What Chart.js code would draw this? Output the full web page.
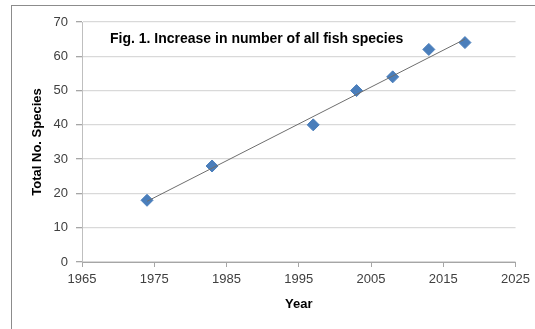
<!DOCTYPE html>
<html>
<head>
<meta charset="utf-8">
<script src="https://cdn.jsdelivr.net/npm/chart.js@4.4.1/dist/chart.umd.min.js"></script>
<style>
  body { margin: 0; background: #fff; }
  #wrap { position: relative; width: 535px; height: 329px; }
  #frame { position: absolute; left: 11px; top: 5px; width: 530px; height: 330px;
           border-left: 1px solid #8c8c8c; border-top: 1px solid #8c8c8c; }
  canvas { position: absolute; left: 0; top: 0; }
</style>
</head>
<body>
<div id="wrap">
  <div id="frame"></div>
  <canvas id="fishChart" width="535" height="329"></canvas>
</div>
<script>
// observed counts
const years = [1974, 1983, 1997, 2003, 2008, 2013, 2018];
const species = [18, 28, 40, 50, 54, 62, 64];

// linear trendline, end points
const trendYears = [1974, 2018];
const trendValues = [17.7, 65.0];

const chartTitle = 'Fig. 1. Increase in number of all fish species';
const xTitle = 'Year';
const yTitle = 'Total No. Species';

const tickFont = { family: 'Liberation Sans', size: 13 };
const boldFont = { family: 'Liberation Sans', size: 13, weight: 'bold' };

// title sits inside the plot area, top-left
const innerTitle = {
  id: 'innerTitle',
  afterDraw(chart) {
    const { ctx, chartArea } = chart;
    ctx.save();
    ctx.font = 'bold 14px "Liberation Sans"';
    ctx.fillStyle = '#000';
    ctx.textAlign = 'left';
    ctx.textBaseline = 'middle';
    ctx.fillText(chartTitle, chartArea.left + 28, chartArea.top + 17);
    ctx.restore();
  }
};

new Chart(document.getElementById('fishChart'), {
  type: 'scatter',
  data: {
    datasets: [
      {
        label: 'Trend',
        data: trendYears.map((x, i) => ({ x: x, y: trendValues[i] })),
        showLine: true,
        borderColor: '#6e6e6e',
        borderWidth: 1,
        pointRadius: 0,
        order: 0,
      },
      {
        label: 'Species',
        data: years.map((x, i) => ({ x: x, y: species[i] })),
        pointStyle: 'rectRot',
        pointRadius: 6,
        backgroundColor: '#4a7ebb',
        borderColor: '#4a7ebb',
        borderWidth: 1,
        order: 1,
      },
    ],
  },
  options: {
    responsive: false,
    animation: false,
    layout: { padding: { left: 25, top: 22, right: 18, bottom: 0 } },
    plugins: {
      legend: { display: false },
      tooltip: { enabled: false },
    },
    scales: {
      x: {
        type: 'linear',
        min: 1965,
        max: 2025,
        afterFit: (scale) => { scale.height = 67; },
        ticks: {
          stepSize: 10,
          padding: 5,
          color: '#404040',
          font: tickFont,
          maxRotation: 0,
          callback: (v) => String(v),
        },
        grid: {
          drawOnChartArea: false,
          drawTicks: true,
          tickLength: 5,
          tickColor: '#a6a6a6',
        },
        border: { color: '#a6a6a6' },
        title: {
          display: true,
          text: xTitle,
          color: '#000',
          font: boldFont,
          padding: { top: 0, bottom: 17 },
        },
      },
      y: {
        min: 0,
        max: 70,
        afterFit: (scale) => { scale.width = 57; },
        ticks: {
          stepSize: 10,
          padding: 8,
          color: '#404040',
          font: tickFont,
        },
        grid: {
          color: '#d9d9d9',
          lineWidth: 1.3,
          tickLength: 6,
          tickColor: '#a6a6a6',
        },
        border: { color: '#bfbfbf' },
        title: {
          display: true,
          text: yTitle,
          color: '#000',
          font: boldFont,
          padding: { top: 5, bottom: 0 },
        },
      },
    },
  },
  plugins: [innerTitle],
});
</script>
</body>
</html>
